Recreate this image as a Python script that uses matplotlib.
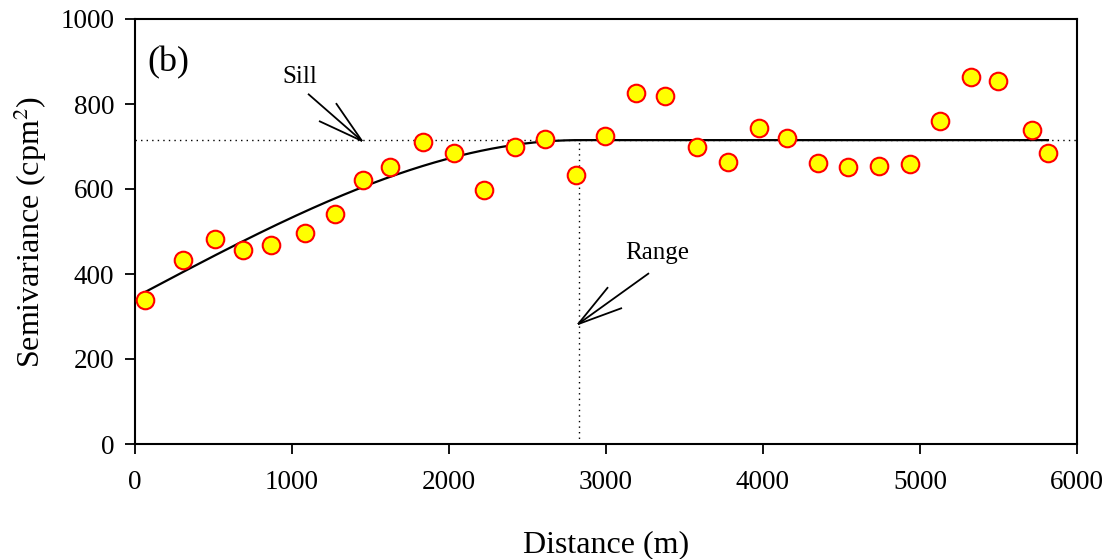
import numpy as np
import matplotlib
matplotlib.use("Agg")
import matplotlib.pyplot as plt

plt.rcParams['font.family'] = ['Liberation Serif', 'DejaVu Serif']
plt.rcParams['mathtext.fontset'] = 'stix'

# Experimental semivariogram
distance = [64, 306, 510, 688, 866, 1083, 1274, 1452, 1624, 1834, 2032, 2223,
            2420, 2611, 2809, 2994, 3191, 3376, 3580, 3777, 3975, 4153, 4350,
            4541, 4739, 4936, 5127, 5325, 5497, 5713, 5815]
semivariance = [340, 433, 482, 457, 468, 496, 541, 621, 651, 711, 684, 598,
                700, 717, 633, 725, 827, 820, 699, 664, 744, 720, 661,
                652, 655, 659, 760, 864, 853, 740, 685]

# Spherical model parameters
nugget = 345
sill = 715
model_range = 2830
model_start, model_end = 64, 5815

fig = plt.figure(figsize=(11.09, 5.59), dpi=100)
ax = fig.add_axes([135/1109, 1 - 444/559, 942/1109, 425/559])

h = np.linspace(model_start, model_end, 600)
r = np.clip(h / model_range, 0, 1)
gamma = nugget + (sill - nugget) * (1.5 * r - 0.5 * r**3)
ax.plot(h, gamma, color='black', lw=1.6, zorder=2)

ax.axhline(sill, color='black', lw=1.0, ls=(0, (1, 3)), zorder=1)
ax.plot([model_range, model_range], [0, sill], color='black', lw=1.0, ls=(0, (1, 3)), zorder=1)

ax.scatter(distance, semivariance, s=160, facecolor='#ffff00', edgecolor='#ff0000',
           linewidth=1.5, zorder=3)

def arrow(tip, tail, b1, b2):
    for p in (tail, b1, b2):
        ax.plot([p[0], tip[0]], [p[1], tip[1]], color='black', lw=1.3,
                solid_capstyle='butt', zorder=4)

arrow((1446, 713), (1102, 824), (1280, 802), (1172, 760))
ax.text(1051, 864, 'Sill', fontsize=18, ha='center', va='center')
arrow((2822, 282), (3274, 402), (3013, 369), (3102, 320))
ax.text(3325, 449, 'Range', fontsize=18, ha='center', va='center')

ax.text(80, 898, '(b)', fontsize=26, ha='left', va='center')

ax.set_xlim(0, 6000)
ax.set_ylim(0, 1000)
ax.set_xticks([0, 1000, 2000, 3000, 4000, 5000, 6000])
ax.set_yticks([0, 200, 400, 600, 800, 1000])
ax.tick_params(direction='out', length=7, width=1.3, labelsize=19.5,
               top=False, right=False)
ax.tick_params(axis='x', pad=12)
ax.tick_params(axis='y', pad=8)
for s in ax.spines.values():
    s.set_linewidth(1.5)

ax.set_xlabel('Distance (m)', fontsize=23, labelpad=25)
ax.set_ylabel('Semivariance (cpm$^2$)', fontsize=23, labelpad=8)

fig.savefig('out.png', dpi=100)
